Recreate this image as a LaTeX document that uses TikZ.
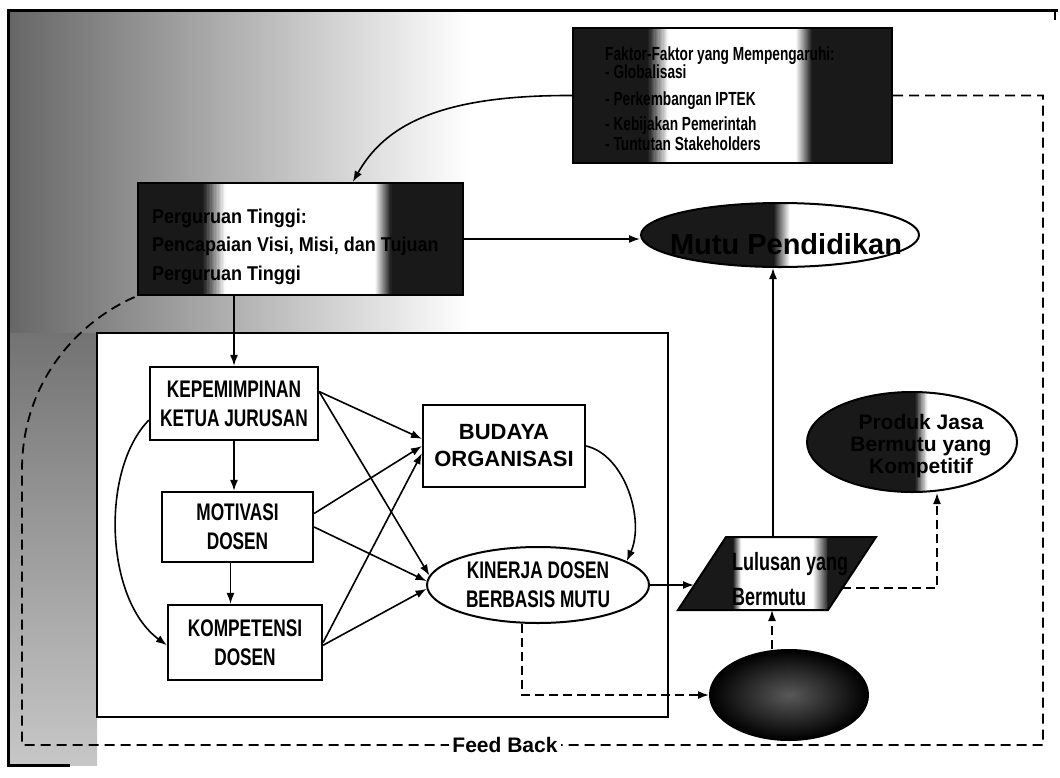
\documentclass[tikz,border=0pt]{standalone}
\usepackage{fontspec}
\setmainfont{Liberation Sans}
\newfontfamily\nar[FakeStretch=0.72]{Liberation Sans}
\newfontfamily\narb[FakeStretch=0.9]{Liberation Sans}
\usetikzlibrary{arrows.meta,shapes.geometric,calc}
\colorlet{dk}{black!90}
\tikzset{
  tone/.style n args={4}{path picture={
    \coordinate (pA) at (path picture bounding box.south west);
    \coordinate (pB) at (path picture bounding box.north east);
    \fill[white] (pA) rectangle (pB);
    \coordinate (q1) at ($(pA)!#1!(pA -| pB)$);
    \coordinate (q2) at ($(pA)!#2!(pA -| pB)$);
    \coordinate (q3) at ($(pA)!#3!(pA -| pB)$);
    \coordinate (q4) at ($(pA)!#4!(pA -| pB)$);
    \fill[dk] (pA) rectangle (q1 |- pB);
    \foreach \i in {0,...,15}{
      \pgfmathsetmacro{\pc}{100-(\i+0.5)*100/16}
      \pgfmathsetmacro{\pr}{(\i+0.5)*100/16}
      \coordinate (ra) at ($(q1)!{\i/16}!(q2)$);
      \coordinate (rb) at ($(q1)!{(\i+1.15)/16}!(q2)$);
      \fill[dk!\pc!white] (ra) rectangle (rb |- pB);
      \coordinate (sa) at ($(q3)!{\i/16}!(q4)$);
      \coordinate (sb) at ($(q3)!{(\i+1.15)/16}!(q4)$);
      \fill[dk!\pr!white] (sa) rectangle (sb |- pB);
    }
    \fill[dk] (q4) rectangle (pB);
  }},
  toneleft/.style 2 args={path picture={
    \coordinate (pA) at (path picture bounding box.south west);
    \coordinate (pB) at (path picture bounding box.north east);
    \fill[white] (pA) rectangle (pB);
    \coordinate (q1) at ($(pA)!#1!(pA -| pB)$);
    \coordinate (q2) at ($(pA)!#2!(pA -| pB)$);
    \fill[dk] (pA) rectangle (q1 |- pB);
    \foreach \i in {0,...,15}{
      \pgfmathsetmacro{\pc}{100-(\i+0.5)*100/16}
      \coordinate (ra) at ($(q1)!{\i/16}!(q2)$);
      \coordinate (rb) at ($(q1)!{(\i+1.15)/16}!(q2)$);
      \fill[dk!\pc!white] (ra) rectangle (rb |- pB);
    }
  }}
}
\begin{document}
\begin{tikzpicture}[x=1pt,y=-1pt,
  box/.style={draw, line width=2.2pt, rectangle, inner sep=0pt, align=center},
  oval/.style={draw, line width=2pt, ellipse, inner sep=0pt, align=center},
  nartxt/.style={font=\nar\bfseries\fontsize{24}{29}\selectfont},
  arr/.style={-{Latex[length=11pt,width=8pt]}, line width=1.6pt},
  darr/.style={arr, dash pattern=on 9pt off 5pt},
  fb/.style={line width=1.8pt, dash pattern=on 10pt off 6pt}]
\useasboundingbox (0,0) rectangle (1060,777);
% scanned background tone
\shade[left color=black!60, right color=white] (8,10) rectangle (470,333);
\shade[top color=black!55, bottom color=black!22] (8,333) rectangle (97,765);
% outer frame
\draw[line width=3pt] (1058,10) -- (8,10) -- (8,765) -- (70,765);
\draw[line width=2pt] (1055,10) -- (1055,20);
% inner frame
\node[draw, line width=2.5pt, fill=white, minimum width=571pt, minimum height=384pt, inner sep=0] (frame) at (382.5,525) {};
% feedback path points
\coordinate (c1) at (1043,96);
\coordinate (c2) at (1043,745);
\coordinate (c3) at (22,745);
\coordinate (c4) at (22,470);
% top boxes
\node[draw, line width=2pt, tone={0.235}{0.30}{0.70}{0.75}, minimum width=319pt, minimum height=135pt, inner sep=0] (fak) at (732.5,95.5) {};
\node[anchor=north west, align=left, inner sep=0, font=\nar\bfseries\fontsize{19}{23}\selectfont] (faktxt) at (605,46.5)
  {Faktor-Faktor yang Mempengaruhi:\\[-5pt]- Globalisasi\\[4pt]- Perkembangan IPTEK\\[2pt]- Kebijakan Pemerintah\\[-3pt]- Tuntutan Stakeholders};
\node[draw, line width=2pt, tone={0.20}{0.27}{0.73}{0.78}, minimum width=325pt, minimum height=112pt, inner sep=0] (per) at (300.5,239) {};
\node[anchor=north west, align=left, inner sep=0, font=\narb\bfseries\fontsize{20}{28.5}\selectfont] (pertxt) at (152,208.5)
  {Perguruan Tinggi:\\Pencapaian Visi, Misi, dan Tujuan\\Perguruan Tinggi};
\node[oval, toneleft={0.48}{0.535}, minimum width=278pt, minimum height=64pt] (mutu) at (780,235) {};
\node[font=\bfseries\fontsize{29}{29}\selectfont, anchor=base, inner sep=0] (mututxt) at (786,254) {Mutu Pendidikan};
% inner boxes
\node[box, nartxt, minimum width=168pt, minimum height=73pt] (kep) at (234,403.5) {KEPEMIMPINAN\\KETUA JURUSAN};
\node[box, nartxt, minimum width=151pt, minimum height=70pt] (mot) at (237.5,527) {MOTIVASI\\DOSEN};
\node[box, nartxt, minimum width=154pt, minimum height=75pt] (kom) at (245,642.5) {KOMPETENSI\\DOSEN};
\node[box, font=\bfseries\fontsize{22}{27}\selectfont, minimum width=162pt, minimum height=82pt] (bud) at (504,446) {BUDAYA\\ORGANISASI};
\node[oval, nartxt, minimum width=222pt, minimum height=76pt] (kin) at (538,585) {KINERJA DOSEN\\BERBASIS MUTU};
% right side
\coordinate (l1) at (678,610);
\coordinate (l2) at (726,537);
\coordinate (l3) at (876,537);
\coordinate (l4) at (828,610);
\draw[line width=2pt, tone={0.28}{0.32}{0.68}{0.76}] (l1) -- (l2) -- (l3) -- (l4) -- cycle;
\node[anchor=north west, align=left, inner sep=0, font=\nar\bfseries\fontsize{25}{35}\selectfont] (lul) at (732,552) {Lulusan yang\\Bermutu};
\coordinate (lulL) at (694,585);
\coordinate (lulR) at (842,588);
\coordinate (lulT) at (773,537);
\coordinate (lulB) at (772,610);
\node[oval, toneleft={0.515}{0.575}, minimum width=210pt, minimum height=100pt] (jasa) at (912,442) {};
\node[align=center, inner sep=0, font=\bfseries\fontsize{21}{22}\selectfont] (jasatxt) at (921,446.5) {Produk Jasa\\Bermutu yang\\Kompetitif};
\node[oval, inner color=black!65, outer color=black, minimum width=158pt, minimum height=90pt] (bot) at (789,695) {};
% connectors
\draw[arr] (fak.west) .. controls (440,95) and (385,125) .. ($(per.north west)!0.66!(per.north east)$);
\draw[arr] (per.east) -- (per.east -| mutu.west);
\draw[arr] (kep.north |- per.south) -- (kep.north);
\draw[arr] (kep.south) -- (kep.south |- mot.north);
\draw[arr] ([xshift=-7pt]mot.south) -- ([xshift=-7pt]mot.south |- kom.north);
\draw[arr] (kep.8) -- (bud.175);
\draw[arr] (kep.8) -- (kin.175);
\draw[arr] (mot.10) -- (bud.west);
\draw[arr] (mot.east) -- (kin.178);
\draw[arr] (kom.east) -- (bud.185);
\draw[arr] (kom.-2) -- (kin.182);
\draw[arr] (kep.191) .. controls (100,470) and (105,600) .. (kom.182);
\draw[arr] (bud.east) .. controls (625,455) and (645,520) .. (kin.15);
\draw[arr] (kin.east) -- (lulL);
\draw[arr] (lulT) -- (lulT |- mutu.south);
\draw[darr] ([xshift=-16pt]kin.south) |- (bot.west);
\draw[darr] ([xshift=-17pt]bot.north) -- (lulB);
\draw[darr] (lulR) -| ([xshift=25pt]jasa.south);
\draw[fb] (fak.east) -- (fak.east -| c1) -- (c2) -- (c3) -- (c4) .. controls (22,380) and (80,320) .. (per.south west);
\node[fill=white, inner sep=3pt, font=\bfseries\fontsize{21}{21}\selectfont] (fbt) at (505,745) {Feed Back};
\end{tikzpicture}
\end{document}
